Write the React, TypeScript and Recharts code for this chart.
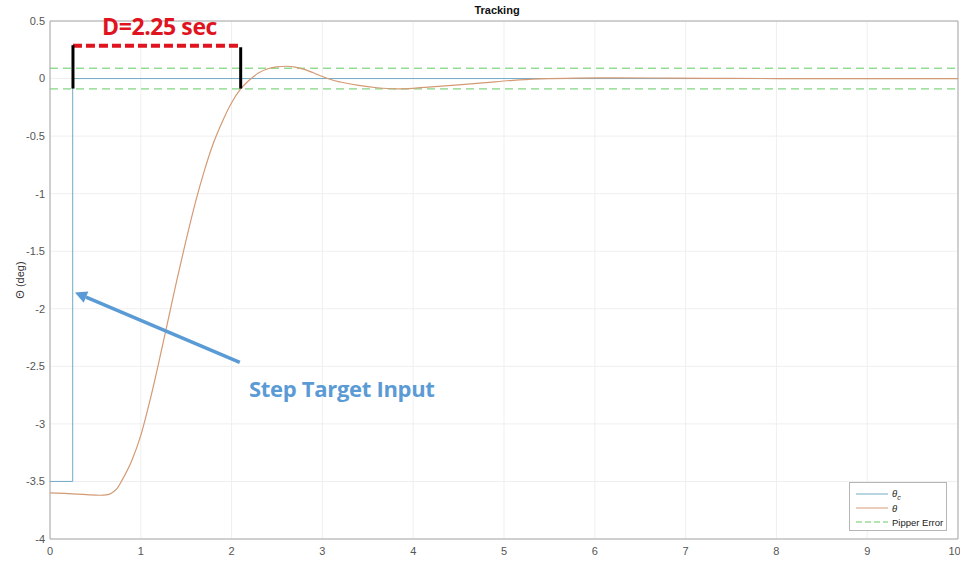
import React from 'react';
import {
  LineChart,
  Line,
  XAxis,
  YAxis,
  CartesianGrid,
  ReferenceArea,
  ReferenceLine,
  Legend
} from 'recharts';

const TIME = [0, 0.2, 0.4, 0.55, 0.62, 0.68, 0.74, 0.8, 0.9, 1.0, 1.1, 1.2, 1.3, 1.4, 1.5, 1.6, 1.7, 1.8, 1.9, 2.0, 2.1, 2.2, 2.3, 2.4, 2.5, 2.6, 2.7, 2.8, 2.9, 3.0, 3.1, 3.2, 3.4, 3.6, 3.8, 4.0, 4.2, 4.5, 4.8, 5.1, 5.4, 5.8, 6.2, 6.8, 7.5, 8.5, 10];
const THETA = [-3.6, -3.605, -3.615, -3.62, -3.617, -3.6, -3.56, -3.48, -3.32, -3.1, -2.8, -2.46, -2.1, -1.74, -1.4, -1.08, -0.8, -0.56, -0.37, -0.21, -0.09, -0.01, 0.05, 0.085, 0.102, 0.107, 0.1, 0.08, 0.05, 0.018, -0.01, -0.03, -0.06, -0.08, -0.09, -0.085, -0.072, -0.055, -0.035, -0.015, -0.003, 0.004, 0.006, 0.004, 0.001, 0, 0];

// commanded step (theta_c)
const CMD_TIME = [0, 0.25, 0.25, 10];
const CMD_VALUES = [-3.5, -3.5, 0, 0];

const PIPPER_LIMIT = 0.09;

const X_TICKS = [0, 1, 2, 3, 4, 5, 6, 7, 8, 9, 10];
const Y_TICKS = [-4, -3.5, -3, -2.5, -2, -1.5, -1, -0.5, 0, 0.5];

const thetaData = TIME.map((t, i) => ({ t, v: THETA[i] }));
const cmdData = CMD_TIME.map((t, i) => ({ t, v: CMD_VALUES[i] }));
const upperData = [{ t: 0, v: PIPPER_LIMIT }, { t: 10, v: PIPPER_LIMIT }];
const lowerData = [{ t: 0, v: -PIPPER_LIMIT }, { t: 10, v: -PIPPER_LIMIT }];

const CMD_COLOR = '#72abc6';
const THETA_COLOR = '#d49a74';
const PIPPER_COLOR = '#62cc62';

const tickStyle = { fontFamily: 'Liberation Sans, Arial, sans-serif', fontSize: 11, fill: '#555' };

const ArrowShape = (props: any) => {
  const { x1, y1, x2, y2 } = props;
  const ang = Math.atan2(y2 - y1, x2 - x1);
  const head = 12;
  const half = 6;
  const bx = x2 - head * Math.cos(ang);
  const by = y2 - head * Math.sin(ang);
  const px = -Math.sin(ang) * half;
  const py = Math.cos(ang) * half;
  return (
    <g>
      <line x1={x1} y1={y1} x2={bx} y2={by} stroke="#5b9bd5" strokeWidth={3.5} />
      <polygon points={`${x2},${y2} ${bx + px},${by + py} ${bx - px},${by - py}`} fill="#5b9bd5" />
    </g>
  );
};

const LegendBox = () => (
  <div
    style={{
      border: '1px solid #b5b5b5',
      background: '#fff',
      width: 96,
      height: 47,
      fontFamily: 'Liberation Sans, Arial, sans-serif',
      fontSize: 9.5,
      color: '#222',
      position: 'relative'
    }}
  >
    {[
      { y: 11, color: CMD_COLOR, dash: undefined, label: <span style={{ fontStyle: 'italic' }}>θ<sub style={{ fontSize: 7 }}>c</sub></span> },
      { y: 25, color: THETA_COLOR, dash: undefined, label: <span style={{ fontStyle: 'italic' }}>θ</span> },
      { y: 39, color: PIPPER_COLOR, dash: '6 3', label: <span>Pipper Error</span> }
    ].map((row, i) => (
      <div key={i} style={{ position: 'absolute', left: 6, top: row.y - 7, height: 14, display: 'flex', alignItems: 'center' }}>
        <svg width={32} height={4} style={{ marginRight: 4 }}>
          <line x1={0} y1={2} x2={32} y2={2} stroke={row.color} strokeWidth={1} strokeDasharray={row.dash} />
        </svg>
        {row.label}
      </div>
    ))}
  </div>
);

export default function App() {
  return (
    <div style={{ position: 'absolute', left: 0, top: 0, width: 960, height: 562, background: '#fff' }}>
      <LineChart width={960} height={562} margin={{ top: 21, right: 2, bottom: 3, left: 0 }}>
        <CartesianGrid stroke="#efefef" />
        <XAxis
          dataKey="t"
          type="number"
          domain={[0, 10]}
          ticks={X_TICKS}
          allowDataOverflow
          axisLine={false}
          tickLine={false}
          height={20}
          tick={tickStyle}
        />
        <YAxis
          type="number"
          domain={[-4, 0.5]}
          ticks={Y_TICKS}
          allowDataOverflow
          axisLine={false}
          tickLine={false}
          width={50}
          tickSize={3}
          tickMargin={2}
          tick={tickStyle}
          label={{
            value: 'Θ (deg)',
            angle: -90,
            position: 'insideLeft',
            offset: 20,
            style: { fontFamily: 'Liberation Sans, Arial, sans-serif', fontSize: 11, fill: '#333', textAnchor: 'middle' }
          }}
        />
        <ReferenceArea x1={0} x2={10} y1={-4} y2={0.5} fill="none" stroke="#a8a8a8" strokeWidth={1} />
        <Line data={upperData} dataKey="v" stroke={PIPPER_COLOR} strokeDasharray="8 5" strokeWidth={1} dot={false} isAnimationActive={false} legendType="none" />
        <Line data={lowerData} dataKey="v" stroke={PIPPER_COLOR} strokeDasharray="8 5" strokeWidth={1} dot={false} isAnimationActive={false} legendType="none" />
        <Line data={cmdData} dataKey="v" type="linear" stroke={CMD_COLOR} strokeWidth={1} dot={false} isAnimationActive={false} />
        <Line data={thetaData} dataKey="v" type="monotone" stroke={THETA_COLOR} strokeWidth={1.2} dot={false} isAnimationActive={false} />
        {/* duration bracket */}
        <ReferenceLine segment={[{ x: 0.253, y: 0.286 }, { x: 2.08, y: 0.286 }]} stroke="#e0141e" strokeWidth={4} strokeDasharray="9 4" ifOverflow="visible" />
        <ReferenceLine segment={[{ x: 0.253, y: 0.29 }, { x: 0.253, y: -0.087 }]} stroke="#000" strokeWidth={3} ifOverflow="visible" />
        <ReferenceLine segment={[{ x: 2.1, y: 0.272 }, { x: 2.1, y: -0.087 }]} stroke="#000" strokeWidth={3} ifOverflow="visible" />
        <ReferenceLine segment={[{ x: 2.09, y: -2.465 }, { x: 0.275, y: -1.858 }]} shape={ArrowShape} ifOverflow="visible" />
        <Legend
          layout="vertical"
          align="center"
          verticalAlign="middle"
          content={() => <LegendBox />}
          wrapperStyle={{ position: 'absolute', left: 849, top: 482, width: 98, height: 49 }}
        />
      </LineChart>
      <div style={{ position: 'absolute', left: 0, width: 994, top: 4, textAlign: 'center', fontFamily: 'Liberation Sans, Arial, sans-serif', fontSize: 11, fontWeight: 'bold', color: '#111' }}>
        Tracking
      </div>
      <div style={{ position: 'absolute', left: 102, top: 10, fontFamily: 'Open Sans, sans-serif', fontSize: 23, fontWeight: 'bold', color: '#e0141e', letterSpacing: -0.4, lineHeight: '32px' }}>
        D=2.25 sec
      </div>
      <div style={{ position: 'absolute', left: 249, top: 372, fontFamily: 'Open Sans, sans-serif', fontSize: 22, fontWeight: 'bold', color: '#5b9bd5', letterSpacing: -0.3, lineHeight: '32px' }}>
        Step Target Input
      </div>
    </div>
  );
}
